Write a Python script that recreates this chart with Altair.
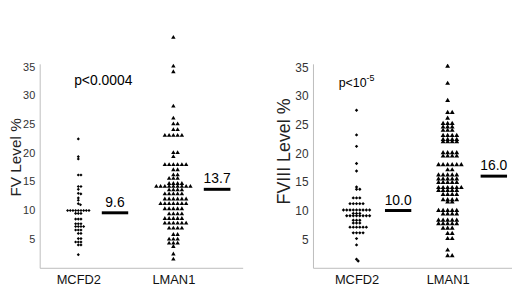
import math
import altair as alt
import pandas as pd

# ---------------- data ----------------
categories = ["MCFD2", "LMAN1"]

fv_mcfd2 = [22.5, 19.4, 19.0, 16.2, 16.2, 14.2, 14.2, 13.7, 13.0, 12.9, 12.2, 11.8,
            11.2, 11.0, 10.0, 10.0, 10.0, 10.0, 10.0, 10.0, 10.0, 10.0, 10.0,
            9.5, 9.5, 9.5, 8.5, 8.5, 8.5, 7.7, 7.7, 7.7, 7.2, 7.2, 7.2, 7.2,
            6.6, 6.6, 6.6, 6.0, 6.0, 5.1, 5.1, 4.5, 4.5, 4.5, 4.0, 4.0, 2.3]

fv_lman1 = [40.3, 35.3, 34.3, 28.3, 26.2, 25.2, 25.2, 24.2, 24.2,
            23.2, 23.2, 23.2, 23.2, 23.2, 20.2, 20.2, 19.5,
            18.1, 18.1, 18.1, 18.1, 18.1, 18.1, 17.2, 17.2, 16.3, 16.3,
            15.7, 15.7, 15.7, 14.8, 14.8, 14.8, 14.8,
            14.3, 14.3, 14.3, 14.3, 14.3, 14.3, 14.3, 14.3, 14.3,
            13.7, 13.7, 13.7, 13.7, 13.0, 13.0, 13.0, 13.0, 13.0,
            12.1, 12.1, 12.1, 12.1, 12.1, 12.1,
            11.3, 11.3, 11.3, 11.3, 11.3, 11.3, 11.3,
            10.4, 10.4, 10.4, 10.4, 10.4, 9.5, 9.5, 9.5, 9.5,
            8.7, 8.7, 8.7, 8.7, 8.7, 7.9, 7.9, 7.9, 7.9, 7.9, 7.9,
            7.0, 7.0, 7.0, 7.0, 5.9, 5.9, 5.1, 5.1, 5.1, 4.4, 4.4, 4.4,
            3.8, 2.5, 1.6]

fviii_mcfd2 = [27.5, 23.2, 21.2, 18.2, 16.9, 14.1, 13.7, 13.7, 12.2, 12.2, 12.2,
               11.2, 11.2, 11.2, 11.2, 11.2,
               10.1, 10.1, 10.1, 10.1, 10.1, 10.1, 10.1, 10.1, 10.1,
               9.5, 9.5, 9.5, 9.1, 9.1, 9.1, 9.1, 9.1, 9.1, 9.1, 9.1,
               8.3, 8.3, 8.3, 7.8, 7.8, 7.8, 7.1, 7.1, 7.1, 7.1, 7.1, 7.1,
               6.1, 6.1, 6.1, 6.1, 5.1, 4.0, 1.5, 1.2]

fviii_lman1 = [45.8, 35.3, 32.3, 29.3, 27.2, 27.2, 26.2, 25.3, 25.3, 25.3,
               24.7, 24.7, 24.7, 24.1, 24.1, 24.1, 23.2, 23.2, 23.2, 23.2,
               22.5, 22.5, 22.5, 22.5, 22.1, 22.1, 22.1, 22.1,
               20.2, 20.2, 20.2, 20.2, 19.6, 19.6, 19.6, 19.6,
               18.1, 18.1, 18.1, 18.1, 18.1, 18.1, 17.2, 17.2,
               16.3, 16.3, 16.3, 16.3, 16.3, 15.6, 15.6, 15.6, 15.6, 15.6,
               15.0, 15.0, 15.0, 15.0, 15.0, 14.1, 14.1, 14.1, 14.1, 14.1, 14.1,
               13.6, 13.6, 13.6, 13.6, 13.6, 12.9, 12.9, 12.9, 12.9,
               12.0, 12.0, 12.0, 12.0, 11.6, 11.6,
               10.1, 10.1, 10.1, 10.1, 10.1, 9.5, 9.5, 9.5, 9.5,
               8.4, 8.4, 8.4, 8.4, 8.4, 7.8, 7.8, 7.8, 7.8, 7.8,
               7.0, 7.0, 7.0, 6.1, 6.1, 5.2, 5.2, 3.2, 2.2, 2.2]

fv_means = [9.6, 13.7]
fviii_means = [10.0, 16.0]
fv_title = "FV Level %"
fviii_title = "FVIII Level %"
fv_p = "p<0.0004"
fviii_p = "p<10"
fviii_p_exp = "-5"
y_ticks = [5, 10, 15, 20, 25, 30, 35]

# ---------------- layout helpers ----------------
FONT = "Liberation Sans"
H = 206
YMAX = 35.6
PXU_Y = H / YMAX


def swarm(values, sx, sy):
    """simple beeswarm: horizontal pixel offsets so that marks do not overlap"""
    placed, out = [], []
    for v in values:
        y = v * PXU_Y
        forb = []
        for qx, qy in placed:
            dy = abs(qy - y)
            if dy < sy:
                half = sx * math.sqrt(1 - (dy / sy) ** 2)
                forb.append((qx - half, qx + half))
        cands = [0.0] + [a for a, b in forb] + [b for a, b in forb]
        cands.sort(key=lambda c: (round(abs(c), 6), -c))
        x = 0.0
        for c in cands:
            if all(not (a + 1e-6 < c < b - 1e-6) for a, b in forb):
                x = c
                break
        placed.append((x, y))
        out.append(x)
    return out


def panel(mc, lm, means, ytitle, title_size, tick_size, dom, u, mean_x,
          sizes, p_text, p_pos, p_size, exp_text=None, title_xy=(0, 0), clip_lm=False):
    lab_expr = f"datum.value == 1 ? '{categories[0]}' : '{categories[1]}'"
    xs = alt.Scale(domain=dom, nice=False, zero=False)
    ys = alt.Scale(domain=[0, YMAX], nice=False, zero=True)
    xaxis = alt.Axis(values=[1, 3], labelExpr=lab_expr, title=None, ticks=False,
                     grid=False, domainColor="#bdbdbd", labelFont=FONT, labelFontSize=13,
                     labelColor="#111", labelPadding=6, labelBaseline="top")
    yaxis = alt.Axis(values=y_ticks, title=ytitle, ticks=False, grid=False,
                     domainColor="#bdbdbd", labelFont=FONT, labelFontSize=tick_size,
                     labelColor="#333", labelPadding=5, titleFont=FONT,
                     titleFontSize=title_size, titleFontWeight="normal", titleColor="#222",
                     titleX=title_xy[0], titleY=title_xy[1], titleBaseline="alphabetic",
                     titleAngle=270)

    def X(f):
        return alt.X(f"{f}:Q", scale=xs, axis=xaxis)

    def Y(f):
        return alt.Y(f"{f}:Q", scale=ys, axis=yaxis)

    off_mc = swarm(mc, sizes[0], sizes[1])
    off_lm = swarm(lm, sizes[2], sizes[3])
    df_mc = pd.DataFrame({"x": [1 + o / u for o in off_mc], "v": mc})
    df_lm = pd.DataFrame({"x": [3 + o / u for o in off_lm], "v": lm})

    pts_mc = alt.Chart(df_mc).mark_point(shape="diamond", filled=True, color="black",
                                         opacity=1, size=sizes[4]).encode(x=X("x"), y=Y("v"))
    pts_lm = alt.Chart(df_lm).mark_point(shape="triangle-up", filled=True, color="black",
                                         opacity=1, size=sizes[5], clip=clip_lm).encode(x=X("x"), y=Y("v"))

    df_m = pd.DataFrame({"x": [a for a, b in mean_x], "x2": [b for a, b in mean_x],
                         "xm": [(a + b) / 2 for a, b in mean_x], "v": means})
    rules = alt.Chart(df_m).mark_rule(color="black", strokeWidth=3).encode(
        x=X("x"), x2="x2:Q", y=Y("v"))
    mlabels = alt.Chart(df_m).mark_text(font=FONT, fontSize=14, color="black", dy=-6,
                                        baseline="alphabetic", align="center").encode(
        x=X("xm"), y=Y("v"), text=alt.Text("v:Q", format=".1f"))

    df_p = pd.DataFrame({"x": [p_pos[0]], "v": [p_pos[1]], "t": [p_text]})
    if exp_text is None:
        ptxt = alt.Chart(df_p).mark_text(font=FONT, fontSize=p_size, color="black",
                                         baseline="alphabetic", align="center").encode(
            x=X("x"), y=Y("v"), text="t:N")
        layers = [pts_mc, pts_lm, rules, mlabels, ptxt]
    else:
        ptxt = alt.Chart(df_p).mark_text(font=FONT, fontSize=p_size, color="black",
                                         baseline="alphabetic", align="left").encode(
            x=X("x"), y=Y("v"), text="t:N")
        df_e = pd.DataFrame({"x": [p_pos[0]], "v": [p_pos[1]], "t": [exp_text]})
        etxt = alt.Chart(df_e).mark_text(font=FONT, fontSize=9, color="black", dx=28, dy=-6,
                                         baseline="alphabetic", align="left").encode(
            x=X("x"), y=Y("v"), text="t:N")
        layers = [pts_mc, pts_lm, rules, mlabels, ptxt, etxt]
    return layers


left_layers = panel(fv_mcfd2, fv_lman1, fv_means, fv_title, 15.5, 11,
                    [0.1875, 4.458], 48, [(1.494, 2.05), (3.64, 4.20)],
                    (2.7, 2.0, 4.3, 2.3, 10, 20), fv_p, (1.525, 31.9), 14,
                    title_xy=(-19.1, 94))
right_layers = panel(fviii_mcfd2, fviii_lman1, fviii_means, fviii_title, 18, 12,
                     [0.0435, 4.413], 46, [(1.624, 2.202), (3.724, 4.304)],
                     (3.3, 2.0, 4.6, 2.3, 12, 24), fviii_p, (0.609, 31.5), 12.5,
                     exp_text=fviii_p_exp, title_xy=(-23.5, 88), clip_lm=True)

left = alt.layer(*left_layers).properties(width=205, height=H)
right = alt.layer(*right_layers).properties(width=201, height=H)

chart = alt.hconcat(left, right, spacing=33).properties(
    padding={"left": 0, "top": 25, "right": 0, "bottom": 0}
).configure_view(stroke=None)

chart.save("out.html", embed_options={"renderer": "svg", "actions": False})
